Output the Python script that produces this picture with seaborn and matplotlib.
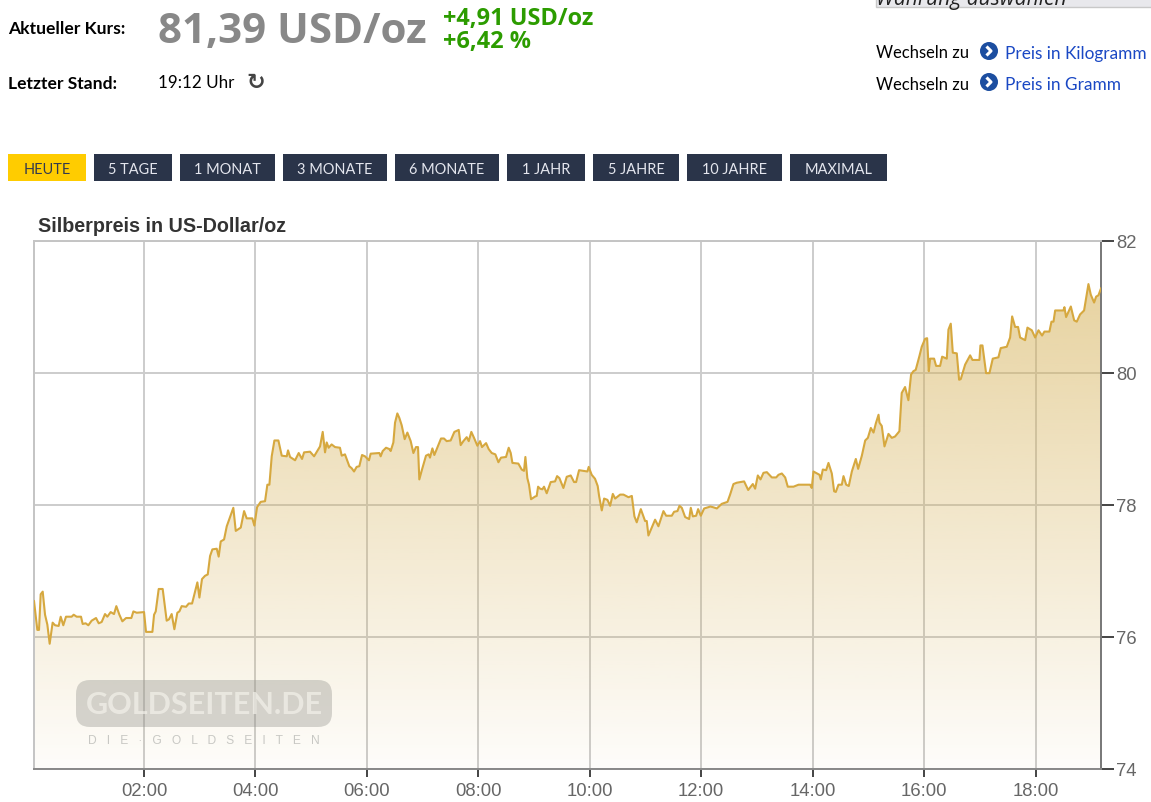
import numpy as np
import pandas as pd
import matplotlib
matplotlib.use("Agg")
import matplotlib.pyplot as plt
from matplotlib.patches import Rectangle, FancyBboxPatch, Circle, PathPatch
import seaborn as sns

minutes = [2,5.6,7.4,9.2,11.4,13.9,16.4,18.9,22.1,24.7,28.6,30.8,33.6,36.5,42.6,44.8,48,52.7,54.5,57.7,60.6,64.2,68.9,71.8,75,78.6,81.1,84.7,88.3,90.8,94.1,97.3,101.3,107,109.2,112.8,120.7,122.8,129.7,131.5,133.3,136.5,140.8,145.1,147.6,150.5,153.4,156.6,158.8,161.3,166,168.9,172.5,178.2,180.4,183.2,186.5,189.4,191.9,194.4,199.1,201.2,203.4,207,209.9,217,219.6,225,228.6,231.4,237.5,239.7,242.6,246.5,251.2,253.7,255.9,258.4,261.3,265.6,269.2,274.6,276,278.2,283.6,287.5,291.1,293.3,299.7,304.1,
 310.5,313.4,315.9,317.7,319.8,323,326.7,332,333.9,337.4,342.1,344.6,347.2,350,352.9,355.8,359,363.3,365.1,374.5,375.9,378.1,381.7,385.3,386.7,389.6,391.4,393.9,396.1,398.6,401.8,404.7,408.3,411.2,414,416.2,417.6,420.5,424.8,427.7,429.1,431.7,433.8,437,441,444.2,447.1,451.4,455.4,460.1,462.2,465.1,468.7,470.9,473.7,476.6,480.2,483.1,485.2,489.6,492.4,495.7,499.6,502.9,505.7,511.1,514,516.2,518,524.4,528,530.5,532,534.1,535.9,538.1,542.4,544.2,545.7,547.8,550.3,552.1,555,559.3,564,566.2,568.7,573,576.6,580.9,584.5,586.7,589.9,594.6,598.9,600.3,603.5,607.1,610,
 611.5,614.4,616.9,620.5,623.4,626.3,628.8,634.2,637.8,643.2,646.8,649.6,652.1,656.5,661.1,662.9,664.7,671.9,675.5,680.9,683.8,689.9,692.4,696,698.2,700.7,704.3,708.6,710.4,712.6,716.2,718.3,721.2,724.8,729.5,731.3,734.1,738.5,743.8,750,752.8,756.4,760,767.9,772.3,777.3,779.8,782.7,785.6,788.8,792.4,797.8,802.5,805,808.6,812.2,815,821.2,826.6,839.1,840.9,842.7,849.2,850.6,852.8,856.4,858.9,862.5,865,866.8,869.7,873.3,875.1,878,880.8,884.1,888.4,890.9,894.9,898.5,901.4,904.6,907.5,910,912.9,913.9,916.4,919.3,923.6,
 927.2,930.7,935.4,937.9,941.5,945.1,948,950.5,953,957,959.5,963.1,965.3,967.1,968.5,972.8,975,979.3,981.5,986.5,988.3,990.8,993,997.3,999.8,1001.6,1006.3,1011.7,1014.2,1021.7,1022.8,1025,1028.9,1032.5,1036.1,1042.2,1044.7,1051.2,1054.8,1057,1060.2,1063.4,1065.6,1071,1073.5,1078.2,1081.8,1085.4,1089.3,1091.8,1097.2,1099.4,1101.6,1103.4,1112.3,1113.4,1115.2,1120.3,1123.9,1126.7,1130.3,1134.6,1139.3,1141.8,1145.4,1147.6,1150.1,1153]
price = [76.54,76.10,76.10,76.64,76.68,76.33,76.18,75.89,76.21,76.17,76.16,76.30,76.17,76.30,76.30,76.33,76.30,76.30,76.19,76.20,76.17,76.24,76.28,76.20,76.22,76.34,76.30,76.37,76.34,76.46,76.33,76.23,76.28,76.28,76.38,76.36,76.37,76.07,76.07,76.33,76.38,76.72,76.72,76.24,76.26,76.34,76.11,76.36,76.38,76.46,76.45,76.50,76.50,76.82,76.59,76.87,76.92,76.94,77.22,77.32,77.33,77.21,77.44,77.47,77.67,77.95,77.60,77.65,77.90,77.79,77.79,77.68,77.96,78.04,78.05,78.30,78.30,78.73,78.97,78.97,78.74,78.73,78.82,78.72,78.67,78.78,78.69,78.79,78.80,78.73,
 78.88,79.10,78.79,78.94,78.86,78.91,78.87,78.86,78.74,78.76,78.58,78.55,78.50,78.57,78.58,78.75,78.73,78.67,78.77,78.78,78.73,78.81,78.86,78.84,78.81,78.94,79.24,79.38,79.31,79.20,78.99,79.09,78.96,78.78,78.87,78.87,78.38,78.53,78.74,78.76,78.71,78.85,78.75,78.86,79.00,79.00,78.96,78.97,79.10,79.13,78.90,78.96,79.02,78.96,79.10,79.01,78.89,78.96,78.87,78.93,78.84,78.78,78.76,78.64,78.71,78.72,78.86,78.78,78.63,78.62,78.53,78.51,78.72,78.40,78.30,78.08,78.12,78.13,78.27,78.24,78.23,78.27,78.17,78.34,78.35,78.43,78.40,78.25,78.42,78.44,78.34,78.34,78.52,78.51,78.50,78.57,78.45,78.39,78.28,
 78.13,77.91,78.09,78.07,77.98,78.16,78.09,78.15,78.15,78.11,78.13,77.82,77.73,77.93,77.75,77.75,77.53,77.77,77.67,77.90,77.83,77.83,77.89,77.90,77.98,77.95,77.81,77.78,77.95,77.82,77.83,77.93,77.83,77.94,77.96,77.97,77.96,77.94,78.01,78.04,78.15,78.31,78.33,78.35,78.22,78.31,78.24,78.44,78.38,78.48,78.49,78.41,78.41,78.45,78.47,78.41,78.27,78.27,78.30,78.30,78.25,78.50,78.45,78.38,78.53,78.52,78.63,78.47,78.20,78.19,78.30,78.30,78.43,78.30,78.28,78.50,78.69,78.54,78.74,78.97,79.01,79.16,79.09,79.23,79.36,79.24,79.19,78.88,79.07,
 79.01,79.03,79.11,79.69,79.78,79.58,79.97,80.02,80.04,80.25,80.39,80.51,80.52,80.02,80.21,80.21,80.10,80.10,80.24,80.21,80.65,80.74,80.30,80.29,79.89,79.90,80.12,80.26,80.19,80.19,80.41,80.41,79.99,79.99,80.21,80.23,80.37,80.39,80.53,80.85,80.69,80.69,80.53,80.49,80.68,80.64,80.53,80.64,80.56,80.62,80.62,80.77,80.77,80.94,80.94,80.99,80.84,81.00,80.79,80.77,80.88,80.94,81.34,81.18,81.06,81.15,81.17,81.28]

x_ticks = [120,240,360,480,600,720,840,960,1080]
x_labels = ["02:00","04:00","06:00","08:00","10:00","12:00","14:00","16:00","18:00"]
y_ticks = [74,76,78,80,82]
buttons = ["HEUTE","5 TAGE","1 MONAT","3 MONATE","6 MONATE","1 JAHR","5 JAHRE","10 JAHRE","MAXIMAL"]
button_edges = [(8,86),(94,172),(180,275),(283,387),(395,499),(507,585),(593,679),(687,782),(790,887)]

sns.set_theme(style="white")
W, H = 1151, 803
fig = plt.figure(figsize=(W/100, H/100), dpi=100, facecolor="white")

NARROW = "Lato"
ARIAL = "Liberation Sans"
X0, X1 = 1.5, 1150.5

ax = fig.add_axes([34/W, 1-769.5/H, (1101-34)/W, (769.5-241.5)/H])
# readings were taken on a slightly different time scale: calibrate to the axis
df = pd.DataFrame({"minute": [X0 + (m-2)*0.9984 for m in minutes], "price": price})

grad = np.zeros((256, 1, 4))
grad[..., 0], grad[..., 1], grad[..., 2] = 214/255, 178/255, 90/255
grad[:, 0, 3] = np.linspace(0.62, 0.03, 256)
poly = ax.fill_between(df["minute"], df["price"], 74, color="none", lw=0)
im = ax.imshow(grad, extent=(X0, X1, 74, 82), origin="upper", aspect="auto", zorder=2.2)
clip = poly.get_paths()[0]
im.set_clip_path(PathPatch(clip, transform=ax.transData))

sns.lineplot(data=df, x="minute", y="price", ax=ax, color="#d6a83f", lw=1.5,
             estimator=None, sort=False, zorder=3)

ax.set_xlim(X0, X1)
ax.set_ylim(74, 82)
ax.set_xticks(x_ticks, x_labels)
ax.set_yticks(y_ticks)
ax.set_xlabel("")
ax.set_ylabel("")
ax.yaxis.tick_right()
ax.grid(True, color="#cccccc", lw=1.4, zorder=1)
ax.set_axisbelow(True)
ax.tick_params(axis="x", length=6, width=1.4, color="#444444", labelcolor="#666666", labelsize=13.3, pad=4, bottom=True)
ax.tick_params(axis="y", length=9, width=1.4, color="#444444", labelcolor="#666666", labelsize=13.3, pad=2, right=True, left=False)
for t in ax.get_xticklabels() + ax.get_yticklabels():
    t.set_fontfamily(ARIAL)
for s, c in {"left": "#c4c4c4", "top": "#c4c4c4", "right": "#777777", "bottom": "#888888"}.items():
    ax.spines[s].set_color(c)
    ax.spines[s].set_linewidth(1.4)
    ax.spines[s].set_visible(True)

# page furniture in pixel coordinates
ov = fig.add_axes([0, 0, 1, 1], facecolor="none")
ov.set_xlim(0, W)
ov.set_ylim(H, 0)
ov.axis("off")

def txt(x, y, s, size, color="black", weight="normal", family=NARROW, ha="left", **kw):
    ov.text(x, y, s, fontsize=size*0.72, color=color, fontweight=weight, family=family,
            ha=ha, va="center", **kw)

txt(8, 29, "Aktueller Kurs:", 17.5, weight="bold")
txt(8, 84, "Letzter Stand:", 17.5, weight="bold")
txt(158, 33, "81,39 USD/oz", 42, color="#888888", weight="bold", family="Open Sans")
txt(443, 19, "+4,91 USD/oz", 23.5, color="#2c9c00", weight="bold", family="Open Sans")
txt(443, 42, "+6,42 %", 23.5, color="#2c9c00", weight="bold", family="Open Sans")
txt(158, 83, "19:12 Uhr", 17)
ov.text(256, 83, "\u21bb", fontsize=16, color="#444444", family="DejaVu Sans", ha="center", va="center", fontweight="bold")

ov.add_patch(Rectangle((876, -5), 280, 13, fc="#e8e8ec", ec="#c8c8c8", lw=1))
txt(876, 0, "W\u00e4hrung ausw\u00e4hlen", 21, color="#222222", style="italic", family="Open Sans")
for y, label in [(52, "Preis in Kilogramm"), (83, "Preis in Gramm")]:
    txt(876, y+1.5, "Wechseln zu", 16.5)
    ov.add_patch(Circle((989, y), 9, fc="#1c4ea0", ec="none"))
    ov.plot([986.5, 991, 986.5], [y-4.5, y, y+4.5], color="white", lw=2.2, solid_capstyle="butt")
    txt(1005, y+1.5, label, 17.2, color="#1a48c4")

for i, (label, (a, b)) in enumerate(zip(buttons, button_edges)):
    first = i == 0
    ov.add_patch(Rectangle((a, 155), b-a, 27, fc="#ffcc00" if first else "#2a3449", ec="none"))
    txt((a+b)/2, 170, label, 14.5, color="#33394d" if first else "#e4e6ee", ha="center", family="Lato")

txt(38, 226, "Silberpreis in US-Dollar/oz", 19.8, color="#333333", weight="bold", family=ARIAL)

ov.add_patch(FancyBboxPatch((76, 681), 256, 47, boxstyle="round,pad=0,rounding_size=14", mutation_aspect=1,
                            fc="#8f8f8a", ec="none", alpha=0.36))
txt(204, 705, "GOLDSEITEN.DE", 30.5, color="#f3f1ea", ha="center", weight="bold", alpha=0.7)
txt(204, 741, "D   I   E   \u00b7   G   O   L   D   S   E   I   T   E   N", 12, color="#c8c8c4", ha="center", family=ARIAL)

fig.savefig("out.png", dpi=100)
